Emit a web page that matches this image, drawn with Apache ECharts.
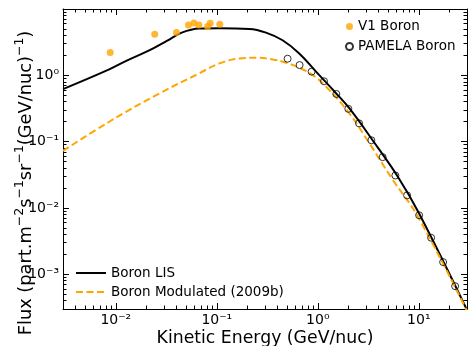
<!DOCTYPE html>
<html><head><meta charset="utf-8">
<script src="https://cdn.jsdelivr.net/npm/echarts@6/dist/echarts.min.js"></script>
<style>html,body{margin:0;padding:0;background:#ffffff}#c{width:469px;height:346px}</style>
</head><body><div id="c"></div><script>
// ---- data ----
const v1Energy = [0.0088, 0.0243, 0.0399, 0.0524, 0.0593, 0.0665, 0.0809, 0.0860, 0.107];
const v1Flux   = [2.21, 4.16, 4.41, 5.75, 6.17, 5.75, 5.43, 6.08, 5.88];

const pamelaEnergy = [0.502, 0.660, 0.868, 1.152, 1.525, 2.005, 2.561, 3.390, 4.387, 5.864, 7.656, 10.07, 13.24, 17.41, 22.89];
const pamelaFlux   = [1.78, 1.427, 1.136, 0.813, 0.524, 0.3125, 0.1888, 0.1050, 0.0584, 0.0309, 0.0155, 0.00777, 0.00356, 0.00153, 0.000663];

const lisEnergy = [0.003, 0.0086, 0.013, 0.0214, 0.032, 0.045, 0.067, 0.106, 0.21, 0.307, 0.448, 0.655, 0.96, 1.515, 2.085, 3.49, 6.18, 10.1, 30];
const lisFlux   = [0.62, 1.23, 1.68, 2.37, 3.3, 4.4, 5.07, 5.12, 5.01, 4.41, 3.38, 2.14, 1.136, 0.537, 0.309, 0.105, 0.0299, 0.0082, 0.00029];

const modEnergy = [0.003, 0.0086, 0.0269, 0.0669, 0.106, 0.1675, 0.244, 0.3565, 0.484, 0.655, 0.888, 1.206, 2.052, 3.238, 5.511, 9.75, 30];
const modFlux   = [0.0725, 0.1995, 0.532, 1.071, 1.513, 1.798, 1.842, 1.738, 1.55, 1.304, 1.01, 0.677, 0.2666, 0.0946, 0.0267, 0.0075, 0.00028];

const xTickValues = [0.01, 0.1, 1, 10];
const xTickLabels = ['10⁻²', '10⁻¹', '10⁰', '10¹'];
const yTickValues = [0.001, 0.01, 0.1, 1];
const yTickLabels = ['10⁻³', '10⁻²', '10⁻¹', '10⁰'];

const xMin = 0.003, xMax = 30, yMin = 0.0003, yMax = 10;

// ---- helpers ----
const zip = (a, b) => a.map((v, i) => [v, b[i]]);
function minorTicks(lo, hi) {
  const out = [];
  for (let e = -6; e <= 3; e++) {
    for (let m = 2; m <= 9; m++) {
      const v = m * Math.pow(10, e);
      if (v > lo && v < hi) out.push(v);
    }
  }
  return out;
}
function labelFor(values, labels) {
  return function (v) {
    for (let i = 0; i < values.length; i++) {
      if (Math.abs(Math.log10(v) - Math.log10(values[i])) < 1e-6) return labels[i];
    }
    return '';
  };
}
const FONT = 'DejaVu Sans';
const line = { show: true, lineStyle: { color: '#000', width: 1 } };

function xAxisDef(pos, major, showLabel) {
  return {
    type: 'log', position: pos, min: xMin, max: xMax,
    axisLine: major ? line : { show: false },
    splitLine: { show: false },
    axisTick: { show: true, inside: true, length: major ? 6 : 3.5,
      lineStyle: { color: '#000', width: 1 },
      customValues: major ? xTickValues : minorTicks(xMin, xMax) },
    axisLabel: showLabel ? { show: true, customValues: xTickValues,
      formatter: labelFor(xTickValues, xTickLabels), fontFamily: FONT, fontSize: 14,
      color: '#000', margin: 4 } : { show: false },
    name: showLabel ? 'Kinetic Energy (GeV/nuc)' : '',
    nameLocation: 'middle', nameGap: 21, nameMoveOverlap: false,
    nameTextStyle: { fontFamily: FONT, fontSize: 17.3, color: '#000' }
  };
}
function yAxisDef(pos, major, showLabel) {
  return {
    type: 'log', position: pos, min: yMin, max: yMax,
    axisLine: major ? line : { show: false },
    splitLine: { show: false },
    axisTick: { show: true, inside: true, length: major ? 6 : 3.5,
      lineStyle: { color: '#000', width: 1 },
      customValues: major ? yTickValues : minorTicks(yMin, yMax) },
    axisLabel: showLabel ? { show: true, customValues: yTickValues,
      formatter: labelFor(yTickValues, yTickLabels), fontFamily: FONT, fontSize: 14,
      color: '#000', margin: 4, padding: [6, 0, 0, 0] } : { show: false },
    name: showLabel ? '{b|Flux (part.m}{s|−2}{b|s}{s|−1}{b|sr}{s|−1}{b|(GeV/nuc)}{s|−1}{b|)}' : '',
    nameLocation: 'middle', nameGap: 28, nameRotate: 90, nameMoveOverlap: false,
    nameTextStyle: { fontFamily: FONT, fontSize: 17.8, color: '#000', padding: [0, 48, 0, 0],
      rich: {
        b: { fontFamily: FONT, fontSize: 17.8, color: '#000', lineHeight: 22, verticalAlign: 'bottom' },
        s: { fontFamily: FONT, fontSize: 12.5, color: '#000', lineHeight: 13, verticalAlign: 'top' }
      } }
  };
}

const chart = echarts.init(document.getElementById('c'), null, { renderer: 'canvas' });
chart.setOption({
  animation: false,
  backgroundColor: '#ffffff',
  grid: { left: 63, right: 2, top: 9, bottom: 37, containLabel: false, outerBoundsMode: 'none' },
  xAxis: [xAxisDef('bottom', true, true), xAxisDef('bottom', false, false),
          xAxisDef('top', true, false), xAxisDef('top', false, false)],
  yAxis: [yAxisDef('left', true, true), yAxisDef('left', false, false),
          yAxisDef('right', true, false), yAxisDef('right', false, false)],
  legend: [
    { data: ['V1 Boron', 'PAMELA Boron'], orient: 'vertical', left: 345, top: 19.5,
      padding: 0, itemWidth: 7, itemHeight: 7, itemGap: 6, icon: 'circle',
      textStyle: { fontFamily: FONT, fontSize: 13.5, color: '#000', lineHeight: 14 } },
    { data: ['Boron LIS', 'Boron Modulated (2009b)'], orient: 'vertical', left: 75, top: 266,
      padding: 0, itemWidth: 30, itemHeight: 14, itemGap: 5,
      itemStyle: { opacity: 0 },
      textStyle: { fontFamily: FONT, fontSize: 13.5, color: '#000', lineHeight: 14 } }
  ],
  series: [
    { name: 'Boron LIS', type: 'line', data: zip(lisEnergy, lisFlux), xAxisIndex: 0, yAxisIndex: 0,
      symbol: 'none', showSymbol: false, smooth: 0.4,
      lineStyle: { color: '#000000', width: 2 }, itemStyle: { color: '#000000' }, z: 2 },
    { name: 'Boron Modulated (2009b)', type: 'line', data: zip(modEnergy, modFlux), xAxisIndex: 0, yAxisIndex: 0,
      symbol: 'none', showSymbol: false, smooth: 0.4,
      lineStyle: { color: '#FFA500', width: 2, type: [7, 3.5] }, itemStyle: { color: '#FFA500' }, z: 3 },
    { name: 'V1 Boron', type: 'scatter', data: zip(v1Energy, v1Flux), xAxisIndex: 0, yAxisIndex: 0,
      symbol: 'circle', symbolSize: 7, itemStyle: { color: '#FFA500' }, z: 4 },
    { name: 'PAMELA Boron', type: 'scatter', data: zip(pamelaEnergy, pamelaFlux), xAxisIndex: 0, yAxisIndex: 0,
      symbol: 'circle', symbolSize: 7,
      itemStyle: { color: 'rgba(255,255,255,0)', borderColor: '#000000', borderWidth: 1 }, z: 5 }
  ]
});
</script></body></html>
